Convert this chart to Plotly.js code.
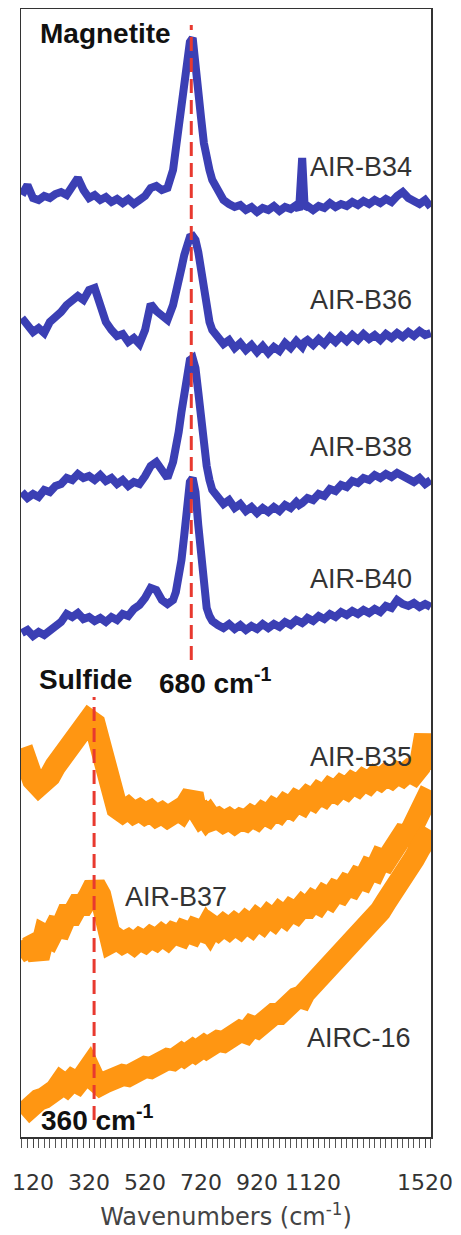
<!DOCTYPE html>
<html><head><meta charset="utf-8">
<script src="https://cdn.plot.ly/plotly-3.0.1.min.js"></script>
<style>html,body{margin:0;padding:0;background:#fff;} #chart{width:461px;height:1235px;}</style>
</head><body><div id="chart"></div>
<script>
// Raman shift grid (cm^-1)
const wavenumbers = [80,100,120,140,160,180,200,220,240,260,280,300,320,340,360,380,400,420,440,460,480,500,520,540,560,580,600,620,
630,640,650,660,670,680,690,700,710,720,730,740,750,760,
780,800,820,840,860,880,900,920,940,960,980,1000,1020,1040,1060,1070,1081,1090,
1100,1120,1140,1160,1180,1200,1220,1240,1260,1280,1300,1320,1340,1360,1380,1400,1420,1440,1460,1480,1500,1520,1540];

// Stacked intensities (a.u.), magnetite group
const airB34 = [942,952,939,937,941,939,943,945,942,949,959,947,939,942,937,940,935,938,934,938,933,937,941,949,951,947,949,967,
987,1009,1029,1052,1077,1095,1099,1077,1045,1019,994,977,967,957,
947,937,933,930,932,927,930,925,929,927,931,926,930,928,932,927,979,929,
931,927,931,929,934,930,933,931,935,932,936,933,937,934,938,935,941,945,939,937,933,937,930];
const airB36 = [819,812,805,809,804,815,819,825,832,837,841,837,847,849,832,815,807,801,803,795,799,793,807,833,826,821,817,832,
842,855,869,882,894,900,901,897,885,867,845,827,815,807,
799,793,797,789,794,787,792,785,791,784,790,786,794,789,796,792,790,795,
797,792,798,793,800,795,801,796,802,797,803,798,802,797,803,799,804,800,805,801,806,802,804];
const airB38 = [645,639,643,640,647,645,651,653,659,657,663,659,661,657,662,656,659,653,657,651,655,653,661,671,675,667,659,675,
687,705,725,745,765,777,779,769,745,717,691,671,657,647,
640,633,637,629,633,626,630,624,629,625,630,626,632,629,635,632,634,637,
639,637,643,641,648,646,652,650,656,654,659,657,662,659,663,660,664,661,659,655,659,653,657];
const airB40 = [504,507,501,505,502,506,511,515,523,520,524,518,520,516,519,515,520,517,523,521,528,532,539,549,547,537,533,537,
545,559,577,602,632,655,659,645,612,577,547,529,521,516,
512,509,513,508,512,507,511,508,513,509,513,510,515,512,517,515,514,516,
519,516,521,518,523,520,525,522,526,523,527,524,528,525,531,529,537,533,531,534,530,533,530];

// Stacked intensities (a.u.), sulfide group
const airB35 = [389,367,357,351,355,361,371,379,391,397,405,412,417,413,392,359,337,329,325,329,324,327,323,326,321,324,320,326,
323,327,325,329,327,335,343,329,323,320,322,318,321,317,
319,315,318,314,318,316,321,318,324,321,328,325,332,329,336,334,333,337,
340,337,344,341,348,345,351,348,354,351,357,354,360,357,362,359,364,361,366,363,370,402,367];
const airB37 = [197,189,192,179,202,199,210,209,222,222,232,232,241,252,242,212,195,198,194,197,193,198,195,200,197,202,198,204,
200,205,201,206,202,207,203,208,204,209,205,210,206,211,
207,212,208,213,209,215,211,218,214,221,217,224,220,227,224,228,231,229,
229,236,233,241,238,246,244,252,250,259,257,268,266,278,276,287,291,302,301,315,320,337,347];
const airc16 = [22,29,32,37,39,42,47,55,51,57,54,61,69,57,52,55,59,57,62,61,66,65,70,69,74,73,78,77,
81,79,83,81,85,83,87,85,89,87,91,89,93,91,
96,95,101,99,106,104,111,109,116,115,123,123,131,131,139,140,139,144,
147,150,157,160,167,171,179,184,191,197,205,211,220,226,235,242,251,260,269,278,288,297,307];

const magnetiteNames = ['AIR-B34','AIR-B36','AIR-B38','AIR-B40'];
const sulfideNames = ['AIR-B35','AIR-B37','AIRC-16'];

// Reference band positions (dashed guide lines)
const bandWn = [685, 338];
const bandTop = [1112, 440];
const bandBottom = [477, 17];
const bandLabels = ['680 cm<sup>-1</sup>', '360 cm<sup>-1</sup>'];

// Axis ticks
const tickValues = [120,320,520,720,920,1120,1520];
const tickLabels = ['120','320','520','720','920','1120','1520'];

const BLUE = '#3b3fb4';
const ORANGE = '#ff9612';
const RED = '#e8392f';

const traces = [];
[airB34, airB36, airB38, airB40].forEach((y, i) => {
  traces.push({x: wavenumbers, y: y, type: 'scatter', mode: 'lines', name: magnetiteNames[i],
    line: {color: BLUE, width: 8}, hoverinfo: 'skip'});
});
[airB35, airB37, airc16].forEach((y, i) => {
  traces.push({x: wavenumbers, y: y, type: 'scatter', mode: 'lines', name: sulfideNames[i],
    line: {color: ORANGE, width: 22}, hoverinfo: 'skip'});
});
bandWn.forEach((w, i) => {
  traces.push({x: [w, w], y: [bandBottom[i], bandTop[i]], type: 'scatter', mode: 'lines',
    line: {color: RED, width: 3, dash: '14px,7px'}, hoverinfo: 'skip'});
});

const labFont = {family: 'Liberation Sans, Arial, sans-serif', size: 27, color: '#333'};
const boldFont = {family: 'Liberation Sans, Arial, sans-serif', size: 28, color: '#111'};
function lab(text, x, y, anchor, font) {
  return {text: text, x: x, y: y, xref: 'x', yref: 'y', xanchor: anchor, yanchor: 'middle',
    showarrow: false, font: font};
}
const annotations = [
  lab('<b>Magnetite</b>', 138, 1104, 'left', boldFont),
  lab('<b>Sulfide</b>', 134, 458, 'left', boldFont),
  lab('<b>' + bandLabels[0] + '</b>', 562, 456, 'left', boldFont),
  lab('<b>' + bandLabels[1] + '</b>', 140, 19, 'left', boldFont),
  lab(magnetiteNames[0], 1480, 970, 'right', labFont),
  lab(magnetiteNames[1], 1480, 837, 'right', labFont),
  lab(magnetiteNames[2], 1480, 690, 'right', labFont),
  lab(magnetiteNames[3], 1480, 558, 'right', labFont),
  lab(sulfideNames[0], 1480, 380, 'right', labFont),
  lab(sulfideNames[1], 441, 240, 'left', labFont),
  lab(sulfideNames[2], 1477, 99, 'right', labFont)
];

const layout = {
  width: 461, height: 1235,
  margin: {l: 21, r: 30, t: 9, b: 98},
  paper_bgcolor: '#fff', plot_bgcolor: '#fff',
  showlegend: false,
  xaxis: {
    range: [77, 1541], showgrid: false, zeroline: false,
    showline: true, mirror: true, linecolor: '#333', linewidth: 1.5,
    ticks: 'outside', ticklen: 9, tickwidth: 1, tickcolor: '#444',
    tickvals: tickValues, ticktext: tickLabels,
    ticklabelstandoff: 16,
    tickfont: {family: 'DejaVu Sans, sans-serif', size: 22, color: '#333'},
    minor: {dtick: 20, ticks: 'outside', ticklen: 9, tickwidth: 1, tickcolor: '#555', showgrid: false},
    title: {text: 'Wavenumbers (cm<sup>-1</sup>)', standoff: 14,
      font: {family: 'DejaVu Sans, sans-serif', size: 24, color: '#444'}}
  },
  yaxis: {
    range: [0, 1128], showgrid: false, zeroline: false, showticklabels: false, ticks: '',
    showline: true, mirror: true, linecolor: '#333', linewidth: 1.5
  },
  annotations: annotations
};

Plotly.newPlot('chart', traces, layout, {staticPlot: true, displayModeBar: false});
</script>
</body></html>
